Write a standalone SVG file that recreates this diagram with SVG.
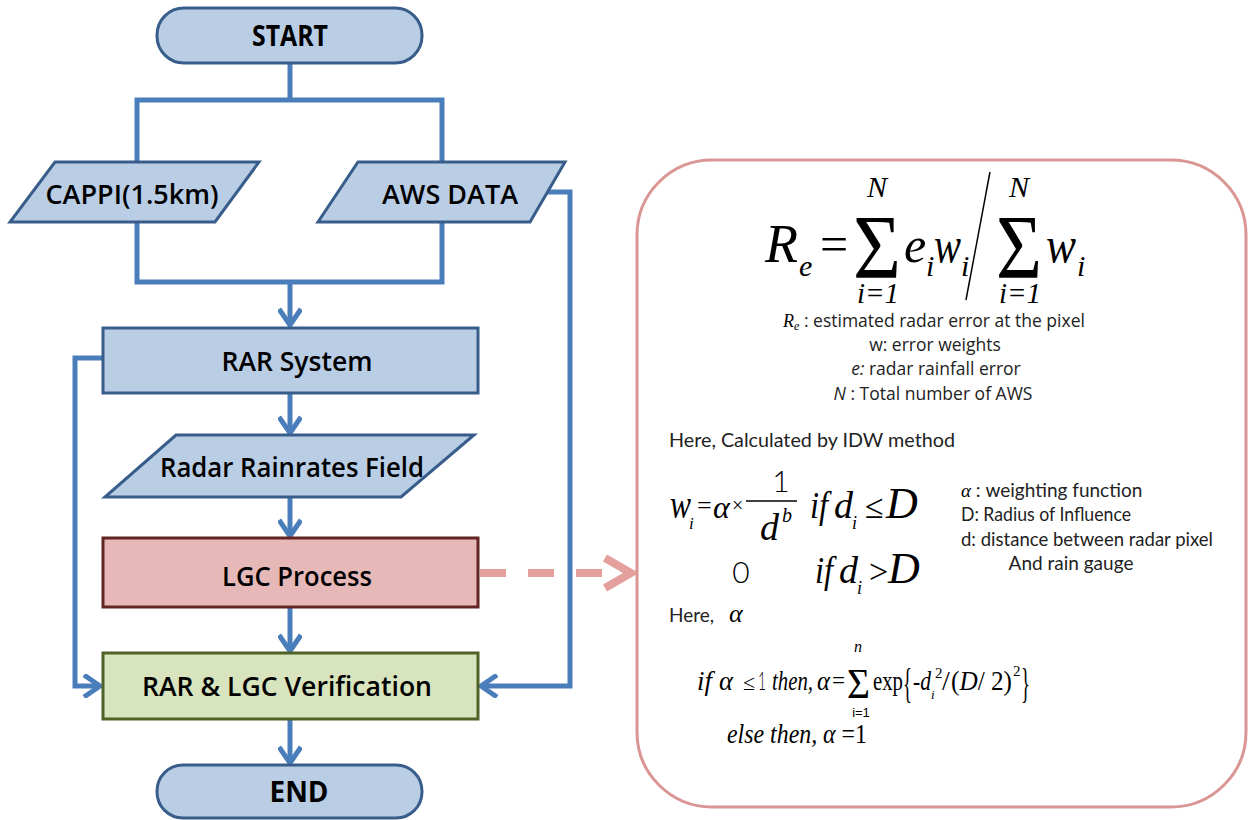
<svg xmlns="http://www.w3.org/2000/svg" width="1249" height="820" viewBox="0 0 1249 820">
  <style>
    .blue { fill: #b9cde5; stroke: #385d8a; stroke-width: 3; }
    .red { fill: #e6b9b8; stroke: #632523; stroke-width: 3; }
    .green { fill: #d7e4bd; stroke: #4f6228; stroke-width: 3; }
    .lbl { font-family: "Open Sans", "Noto Sans", sans-serif; font-weight: 600; font-size: 27px; fill: #000; text-anchor: middle; }
    .lblb { font-family: "Open Sans", "Noto Sans", sans-serif; font-weight: 700; font-size: 28px; fill: #000; text-anchor: middle; }
    .flow { fill: none; stroke: #4a7ebb; stroke-width: 5; }
    .math { font-family: "Liberation Serif", "Times New Roman", serif; font-style: italic; fill: #000; }
    .up { font-style: normal; }
    .note { font-family: "Open Sans", "Noto Sans", sans-serif; font-size: 17.5px; fill: #222; }
    .gothic { font-family: "Lato", "Liberation Sans", sans-serif; font-size: 19px; fill: #222; }
    .sans { font-family: "Liberation Sans", sans-serif; fill: #000; }
    .thin { font-family: "Lato", "Liberation Sans", sans-serif; font-weight: 300; fill: #000; }
  </style>
  <defs>
    <marker id="vee" viewBox="0 0 24 24" refX="19" refY="12" markerWidth="24" markerHeight="24" orient="auto" markerUnits="userSpaceOnUse">
      <path d="M3,1 L19,12 L3,23" fill="none" stroke="#4a7ebb" stroke-width="5"/>
    </marker>
  </defs>

  <rect width="1249" height="820" fill="#fff"/>

  <!-- connectors -->
  <g id="connectors">
    <path class="flow" d="M290,63 V100 M137,163 V100 H442 V163"/>
    <path class="flow" d="M137,221 V282 H442 V221"/>
    <path class="flow" d="M290,282 V325" marker-end="url(#vee)"/>
    <path class="flow" d="M290,393 V433" marker-end="url(#vee)"/>
    <path class="flow" d="M290,497 V536" marker-end="url(#vee)"/>
    <path class="flow" d="M290,607 V651" marker-end="url(#vee)"/>
    <path class="flow" d="M290,719 V763" marker-end="url(#vee)"/>
    <path class="flow" d="M103,358 H75 V686 H100" marker-end="url(#vee)"/>
    <path class="flow" d="M546,192 H570 V686 H481" marker-end="url(#vee)"/>
    <line x1="480" y1="573" x2="603" y2="573" stroke="#e3a09c" stroke-width="8" stroke-dasharray="26 22"/>
    <polyline points="605,558 631,573 605,588" fill="none" stroke="#e3a09c" stroke-width="8"/>
  </g>

  <!-- flowchart nodes -->
  <g id="start">
    <rect class="blue" x="157" y="8" width="265" height="55" rx="27"/>
    <text class="lblb" x="290" y="46" textLength="76" lengthAdjust="spacingAndGlyphs">START</text>
  </g>
  <g id="cappi">
    <polygon class="blue" points="55,162 259,162 215,222 10,222"/>
    <text class="lbl" x="132" y="204" textLength="173" lengthAdjust="spacingAndGlyphs">CAPPI(1.5km)</text>
  </g>
  <g id="aws">
    <polygon class="blue" points="358,162 565,162 530,222 318,222"/>
    <text class="lbl" x="450" y="204" textLength="136" lengthAdjust="spacingAndGlyphs">AWS DATA</text>
  </g>
  <g id="rar">
    <rect class="blue" x="103" y="328" width="375" height="65"/>
    <text class="lbl" x="297" y="371" textLength="151" lengthAdjust="spacingAndGlyphs">RAR System</text>
  </g>
  <g id="rainrates">
    <polygon class="blue" points="176,435 474,435 401,497 105,497"/>
    <text class="lbl" x="292" y="477" textLength="264" lengthAdjust="spacingAndGlyphs">Radar Rainrates Field</text>
  </g>
  <g id="lgc">
    <rect class="red" x="103" y="538" width="375" height="69"/>
    <text class="lbl" x="297" y="586" textLength="150" lengthAdjust="spacingAndGlyphs">LGC Process</text>
  </g>
  <g id="verification">
    <rect class="green" x="103" y="653" width="375" height="66"/>
    <text class="lbl" x="287" y="696" textLength="290" lengthAdjust="spacingAndGlyphs">RAR &amp; LGC Verification</text>
  </g>
  <g id="end">
    <rect class="blue" x="157" y="765" width="265" height="53" rx="26"/>
    <text class="lblb" x="299" y="802" textLength="59" lengthAdjust="spacingAndGlyphs">END</text>
  </g>

  <!-- method panel -->
  <g id="lgc-method">
    <rect x="637" y="160" width="609" height="647" rx="75" fill="#fff" stroke="#d99694" stroke-width="3"/>

    <!-- R_e = sum e_i w_i / sum w_i -->
    <text class="math" x="765" y="262" font-size="54">R</text>
    <text class="math" x="799" y="276" font-size="30">e</text>
    <text class="math up" x="820" y="261" font-size="50">=</text>
    <text class="math up" x="853" y="278" font-size="90" textLength="48" lengthAdjust="spacingAndGlyphs">Σ</text>
    <text class="math" x="877" y="197" font-size="30" text-anchor="middle">N</text>
    <text class="math" x="878" y="303" font-size="29" text-anchor="middle">i=1</text>
    <text class="math" x="904" y="262" font-size="50">e</text>
    <text class="math" x="926" y="276" font-size="30">i</text>
    <text class="math" x="934" y="262" font-size="50" textLength="27" lengthAdjust="spacingAndGlyphs">w</text>
    <text class="math" x="961" y="276" font-size="30">i</text>
    <line x1="990" y1="172" x2="966" y2="300" stroke="#000" stroke-width="1.5"/>
    <text class="math up" x="996" y="278" font-size="90" textLength="46" lengthAdjust="spacingAndGlyphs">Σ</text>
    <text class="math" x="1019" y="197" font-size="30" text-anchor="middle">N</text>
    <text class="math" x="1020" y="303" font-size="29" text-anchor="middle">i=1</text>
    <text class="math" x="1046" y="262" font-size="50" textLength="30" lengthAdjust="spacingAndGlyphs">w</text>
    <text class="math" x="1077" y="276" font-size="30">i</text>

    <!-- symbol legend -->
    <text class="note" x="934" y="327" text-anchor="middle"><tspan class="math" font-size="18">R</tspan><tspan class="math" font-size="12" dy="3">e</tspan><tspan dy="-3"> : estimated  radar error at the pixel</tspan></text>
    <text class="note" x="935" y="351" text-anchor="middle">w: error weights</text>
    <text class="note" x="936" y="375" text-anchor="middle"><tspan font-style="italic">e:</tspan> radar rainfall error</text>
    <text class="note" x="933" y="400" text-anchor="middle"><tspan font-style="italic">N</tspan> : Total  number  of  AWS</text>

    <text class="gothic" x="669" y="447" textLength="286" lengthAdjust="spacingAndGlyphs">Here, Calculated by IDW method</text>

    <!-- IDW weights -->
    <text class="math" x="670" y="518" font-size="40" textLength="21" lengthAdjust="spacingAndGlyphs">w</text>
    <text class="math" x="689" y="529" font-size="17">i</text>
    <text class="math up" x="697" y="514" font-size="26">=</text>
    <text class="math" x="713" y="518" font-size="32">α</text>
    <text class="math up" x="732" y="512" font-size="20" fill="#666">×</text>
    <text class="thin" x="781" y="492" font-size="30" text-anchor="middle">1</text>
    <line x1="746" y1="501" x2="797" y2="501" stroke="#000" stroke-width="1.5"/>
    <text class="math" x="760" y="540" font-size="38">d</text>
    <text class="math" x="782" y="522" font-size="20">b</text>
    <text class="math" x="810" y="518" font-size="38" textLength="18" lengthAdjust="spacingAndGlyphs">if</text>
    <text class="math" x="834" y="518" font-size="38">d</text>
    <text class="math" x="852" y="529" font-size="18">i</text>
    <text class="math up" x="865" y="518" font-size="34">≤</text>
    <text class="math" x="886" y="518" font-size="44">D</text>

    <text class="thin" x="741" y="583" font-size="30" text-anchor="middle">0</text>
    <text class="math" x="815" y="583" font-size="38" textLength="18" lengthAdjust="spacingAndGlyphs">if</text>
    <text class="math" x="839" y="583" font-size="38">d</text>
    <text class="math" x="857" y="594" font-size="18">i</text>
    <text class="math up" x="869" y="583" font-size="34">&gt;</text>
    <text class="math" x="888" y="583" font-size="44">D</text>

    <text class="gothic" x="961" y="497" font-size="17"><tspan class="math" font-size="19">α</tspan><tspan> : weighting function</tspan></text>
    <text class="gothic" x="961" y="521" font-size="17" textLength="170" lengthAdjust="spacingAndGlyphs">D: Radius of Influence</text>
    <text class="gothic" x="961" y="546" font-size="17" textLength="252" lengthAdjust="spacingAndGlyphs">d: distance between radar pixel</text>
    <text class="gothic" x="1071" y="570" font-size="17" text-anchor="middle">And rain gauge</text>

    <text class="gothic" x="669" y="622">Here,</text>
    <text class="math" x="729" y="622" font-size="26">α</text>

    <!-- alpha definition -->
    <text class="math" x="697" y="690" font-size="28" textLength="15" lengthAdjust="spacingAndGlyphs">if</text>
    <text class="math" x="719" y="690" font-size="28" textLength="14" lengthAdjust="spacingAndGlyphs">α</text>
    <text class="math up" x="743" y="690" font-size="22">≤</text>
    <text class="thin" x="758" y="690" font-size="26" textLength="8" lengthAdjust="spacingAndGlyphs">1</text>
    <text class="math" x="772" y="690" font-size="28" textLength="41" lengthAdjust="spacingAndGlyphs">then,</text>
    <text class="math" x="817" y="690" font-size="28" textLength="13" lengthAdjust="spacingAndGlyphs">α</text>
    <text class="math up" x="832" y="688" font-size="24" textLength="13" lengthAdjust="spacingAndGlyphs">=</text>
    <text class="math up" x="847" y="698" font-size="42" textLength="23" lengthAdjust="spacingAndGlyphs">Σ</text>
    <text class="math" x="858" y="652" font-size="16" text-anchor="middle">n</text>
    <text class="sans" x="861" y="717" font-size="13" text-anchor="middle">i=1</text>
    <text class="math up" x="873" y="690" font-size="28" textLength="30" lengthAdjust="spacingAndGlyphs">exp</text>
    <text class="math up" x="903" y="697" font-size="42" textLength="9" lengthAdjust="spacingAndGlyphs">{</text>
    <text class="math" x="913" y="690" font-size="28" textLength="18" lengthAdjust="spacingAndGlyphs">-d</text>
    <text class="math" x="931" y="699" font-size="13">i</text>
    <text class="math up" x="935" y="678" font-size="15">2</text>
    <text class="math up" x="942" y="690" font-size="28">/</text>
    <text class="math up" x="951" y="690" font-size="28" textLength="61" lengthAdjust="spacingAndGlyphs">(<tspan class="math">D</tspan>/ 2)</text>
    <text class="math up" x="1013" y="676" font-size="15">2</text>
    <text class="math up" x="1021" y="697" font-size="42" textLength="9" lengthAdjust="spacingAndGlyphs">}</text>

    <text class="math" x="727" y="743" font-size="28" textLength="140" lengthAdjust="spacingAndGlyphs">else then, α <tspan class="up">=1</tspan></text>
  </g>
</svg>
